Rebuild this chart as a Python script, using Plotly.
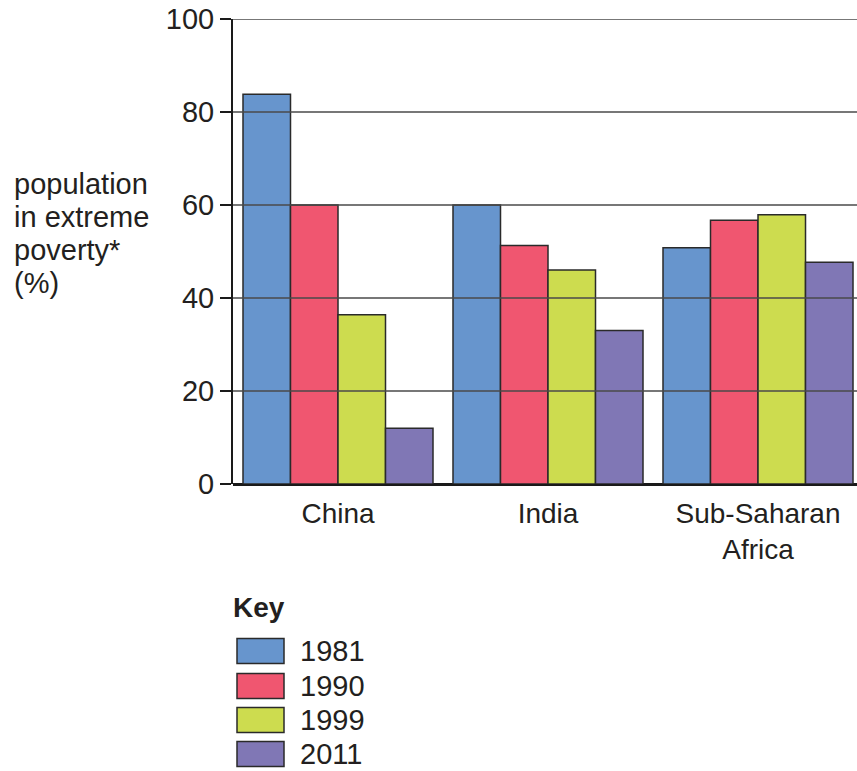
import plotly.graph_objects as go

regions = ["China", "India", "Sub-Saharan<br>Africa"]
years = ["1981", "1990", "1999", "2011"]
v1981 = [83.8, 60.0, 50.8]
v1990 = [60.0, 51.3, 56.7]
v1999 = [36.4, 46.0, 57.9]
v2011 = [12.0, 33.0, 47.7]
series = [v1981, v1990, v1999, v2011]
colors = ["#6795CD", "#F05670", "#CDDC4F", "#8077B5"]
yticks = [0, 20, 40, 60, 80, 100]
ytitle_lines = ["population", "in extreme", "poverty*", "(%)"]

W, H = 857, 771
L, R, T, B = 233, 857, 19, 484
FONT = "Liberation Sans, Arial, sans-serif"
TXT = "#231F20"
FS = 29

def px(x):
    return (x - L) / (R - L)

def py(y):
    return (B - y) / (B - T)

fig = go.Figure()
for yr, vals, col in zip(years, series, colors):
    fig.add_trace(go.Bar(
        x=regions, y=vals, name=yr,
        marker=dict(color=col, line=dict(color="#2A2A2A", width=1.5)),
        showlegend=False,
    ))

shapes = []
for t in yticks[1:]:
    shapes.append(dict(type="line", xref="paper", yref="y", x0=0, x1=1, y0=t, y1=t,
                       line=dict(color="#4A4A4A", width=1.3), layer="above"))

annotations = []
for line, c in zip(ytitle_lines, [184, 217, 250, 283]):
    annotations.append(dict(text=line, xref="paper", yref="paper",
                            x=px(12), y=py(c), xanchor="left", yanchor="middle",
                            showarrow=False, font=dict(family=FONT, size=FS, color=TXT)))
annotations.append(dict(text="<b>Key</b>", xref="paper", yref="paper", x=px(231), y=py(607),
                        xanchor="left", yanchor="middle", showarrow=False,
                        font=dict(family=FONT, size=FS - 1, color=TXT)))
row_centers = [651, 686, 720, 754]
for yr, col, c in zip(years, colors, row_centers):
    shapes.append(dict(type="rect", xref="paper", yref="paper",
                       x0=px(237), x1=px(284), y0=py(c + 12.5), y1=py(c - 12.5),
                       fillcolor=col, line=dict(color="#2A2A2A", width=1.5)))
    annotations.append(dict(text=yr, xref="paper", yref="paper", x=px(298), y=py(c),
                            xanchor="left", yanchor="middle", showarrow=False,
                            font=dict(family=FONT, size=FS, color=TXT)))

fig.update_layout(
    width=W, height=H,
    margin=dict(l=L, r=W - R, t=T, b=H - B, pad=0),
    paper_bgcolor="white", plot_bgcolor="white",
    barmode="group", bargap=20 / 210, bargroupgap=0,
    font=dict(family=FONT, size=FS, color=TXT),
    shapes=shapes, annotations=annotations,
    xaxis=dict(range=[-0.5, 2.4714], showgrid=False, showline=False, ticks="",
               tickfont=dict(size=FS - 1, color=TXT), zeroline=False, fixedrange=True,
               ticklabelstandoff=10),
    yaxis=dict(range=[0, 100], tickvals=yticks, showgrid=False, zeroline=True,
               zerolinecolor="#1A1A1A", zerolinewidth=2.5,
               showline=True, linecolor="#1A1A1A", linewidth=2,
               ticks="outside", ticklen=11, tickwidth=2, tickcolor="#1A1A1A",
               tickfont=dict(size=FS, color=TXT), layer="above traces", fixedrange=True),
)

fig.write_html("out.html", config={"displayModeBar": False},
               post_script="document.body.style.margin='0';document.body.style.overflow='hidden';")
